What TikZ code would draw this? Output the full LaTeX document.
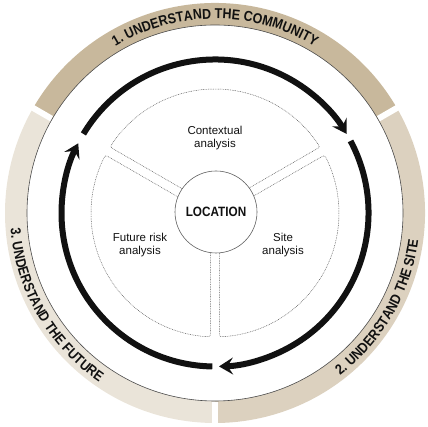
\documentclass[tikz,border=0pt]{standalone}
\usepackage{fontspec}
\setmainfont{Liberation Sans}
\newfontfamily\condfont[FakeStretch=0.87]{Liberation Sans}
\usetikzlibrary{calc,decorations.text,arrows.meta}
\definecolor{segA}{HTML}{C8B89C}
\definecolor{segB}{HTML}{DCD1BF}
\definecolor{segC}{HTML}{EAE4D9}
\definecolor{inkc}{HTML}{111111}
\newcommand{\ringtext}{\condfont\bfseries\fontsize{14.3}{14.3}\selectfont}
\begin{document}
\begin{tikzpicture}[x=1pt,y=1pt,
  sectorline/.style={draw=gray!70!black, line width=0.5pt, dash pattern=on 0.8pt off 0.9pt},
  cyclearrow/.style={line width=6pt, inkc, -{Stealth[length=14pt,width=17pt,inset=5.5pt]}},
  lbl/.style={align=center, text=inkc, font=\fontsize{11.5}{13.5}\selectfont},
  ringlabel/.style={decorate, decoration={text along path, text align=center, text color=inkc}}
]
\useasboundingbox (0,0) rectangle (428,427);
\begin{scope}[shift={(215,214)}]
  % ring segments
  \fill[segA] (30:188pt) arc[start angle=30,end angle=150,radius=188pt] -- (150:210pt) arc[start angle=150,end angle=30,radius=210pt] -- cycle;
  \fill[segB] (270:188pt) arc[start angle=270,end angle=390,radius=188pt] -- (390:210pt) arc[start angle=390,end angle=270,radius=210pt] -- cycle;
  \fill[segC] (150:188pt) arc[start angle=150,end angle=270,radius=188pt] -- (270:210pt) arc[start angle=270,end angle=150,radius=210pt] -- cycle;
  \foreach \a in {30,150,270} \draw[white,line width=6pt] (\a:188.6pt) -- (\a:213pt);
  \draw[gray!60!black, line width=0.6pt] (0,0) circle[radius=188pt];
  % ring texts
  \path[ringlabel, decoration={text={|\ringtext|1. UNDERSTAND THE COMMUNITY}}]
    (150:194.3pt) arc[start angle=150,end angle=30,radius=194.3pt];
  \path[ringlabel, decoration={text={|\ringtext|2. UNDERSTAND THE SITE}}]
    (270:205pt) arc[start angle=270,end angle=390,radius=205pt];
  \path[ringlabel, decoration={text={|\ringtext|3. UNDERSTAND THE FUTURE}}]
    (150:205pt) arc[start angle=150,end angle=270,radius=205pt];
  % cycle arrows
  \draw[cyclearrow] (149:153.5pt) arc[start angle=149,end angle=31,radius=153.5pt];
  \draw[cyclearrow] (28:153.5pt) arc[start angle=28,end angle=-88.5,radius=153.5pt];
  \draw[cyclearrow] (-91:153.5pt) arc[start angle=-91,end angle=-207,radius=153.5pt];
  % dotted sectors
  \foreach \sa in {30,150,270} {
    \pgfmathsetmacro{\sb}{\sa+120}
    \pgfmathsetmacro{\sap}{\sa+90}
    \pgfmathsetmacro{\sbm}{\sb-90}
    \pgfmathsetmacro{\ca}{\sa+4.4}
    \pgfmathsetmacro{\cb}{\sb-4.4}
    \draw[sectorline] ($(\sa:40pt)+(\sap:4.6pt)$) -- ($(\sa:119pt)+(\sap:4.6pt)$)
      .. controls ($(\sa:123.9pt)+(\sap:4.6pt)$) .. (\ca:124pt)
      arc[start angle=\ca,end angle=\cb,radius=124pt]
      .. controls ($(\sb:123.9pt)+(\sbm:4.6pt)$) .. ($(\sb:119pt)+(\sbm:4.6pt)$)
      -- ($(\sb:40pt)+(\sbm:4.6pt)$);
  }
  % centre
  \node[circle, draw=gray!75!black, line width=0.6pt, fill=white, minimum size=82pt, inner sep=0pt,
        text=inkc, font=\condfont\bfseries\fontsize{13.5}{13.5}\selectfont] (loc) at (1,1) {LOCATION};
  \node[lbl] (ctx) at (0,75) {Contextual\\analysis};
  \node[lbl] (fut) at (-75,-32) {Future risk\\analysis};
  \node[lbl] (site) at (68,-32) {Site\\analysis};
\end{scope}
\end{tikzpicture}
\end{document}
